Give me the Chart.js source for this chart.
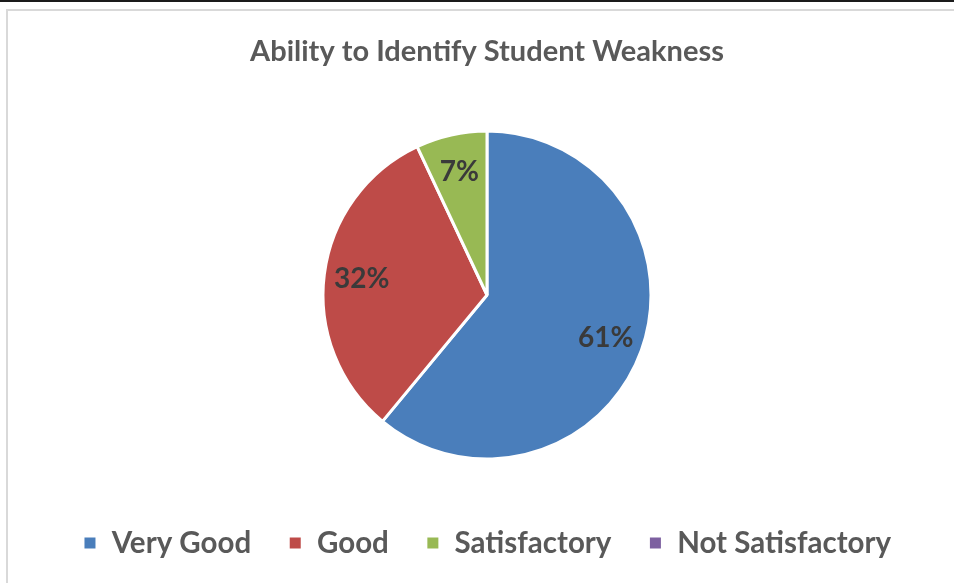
<!DOCTYPE html>
<html>
<head>
<meta charset="utf-8">
<script src="https://cdn.jsdelivr.net/npm/chart.js@4.4.1/dist/chart.umd.min.js"></script>
<style>
    html, body { margin: 0; padding: 0; background: #fff; }
    .topline { position: absolute; left: 0; top: 0; width: 954px; height: 2px; background: #1b1b1b; }
    .frame { position: absolute; left: 6px; top: 9px; width: 1000px; height: 1000px; border: 2px solid #d9d9d9; }
    .wrap { position: absolute; left: 0; top: 0; width: 954px; height: 583px; overflow: hidden; }
</style>
</head>
<body>
<div class="topline"></div>
<div class="frame"></div>
<div class="wrap"><canvas id="pieChart"></canvas></div>
<script>
const categories = ['Very Good', 'Good', 'Satisfactory', 'Not Satisfactory'];
const percentages = [61, 32, 7, 0];
const sliceColors = ['#4A7EBB', '#BE4B48', '#98B954', '#7D60A0'];

// draws the "61%" style labels inside each slice
const sliceLabels = {
    id: 'sliceLabels',
    afterDatasetsDraw(chart) {
        const { ctx } = chart;
        const meta = chart.getDatasetMeta(0);
        ctx.save();
        ctx.font = 'bold 28px Lato, sans-serif';
        ctx.fillStyle = '#3a3a3a';
        ctx.textAlign = 'center';
        ctx.textBaseline = 'middle';
        meta.data.forEach((arc, i) => {
            const value = percentages[i];
            if (!value) return;
            const { x, y, startAngle, endAngle, outerRadius } = arc.getProps(['x', 'y', 'startAngle', 'endAngle', 'outerRadius'], true);
            const mid = (startAngle + endAngle) / 2;
            const r = outerRadius * 0.77;
            ctx.fillText(value + '%', x + Math.cos(mid) * r, y + Math.sin(mid) * r);
        });
        ctx.restore();
    }
};

const ctx = document.getElementById('pieChart').getContext('2d');

new Chart(ctx, {
    type: 'pie',
    data: {
        labels: categories,
        datasets: [{
            data: percentages,
            backgroundColor: sliceColors,
            borderColor: '#ffffff',
            borderWidth: 3
        }]
    },
    options: {
        responsive: true,
        maintainAspectRatio: false,
        animation: false,
        radius: 164,
        layout: {
            padding: { left: 20, top: 0, right: 0, bottom: 15.25 }
        },
        plugins: {
            title: {
                display: true,
                text: 'Ability to Identify Student Weakness',
                color: '#595959',
                font: { family: 'Lato', size: 29, weight: 'bold' },
                padding: { top: 34.6, bottom: 29.35 }
            },
            legend: {
                position: 'bottom',
                labels: {
                    color: '#595959',
                    font: { family: 'Lato', size: 29.5, weight: 'bold' },
                    boxWidth: 14,
                    boxHeight: 14,
                    padding: 37
                }
            },
            tooltip: { enabled: false }
        }
    },
    plugins: [sliceLabels]
});
</script>
</body>
</html>
